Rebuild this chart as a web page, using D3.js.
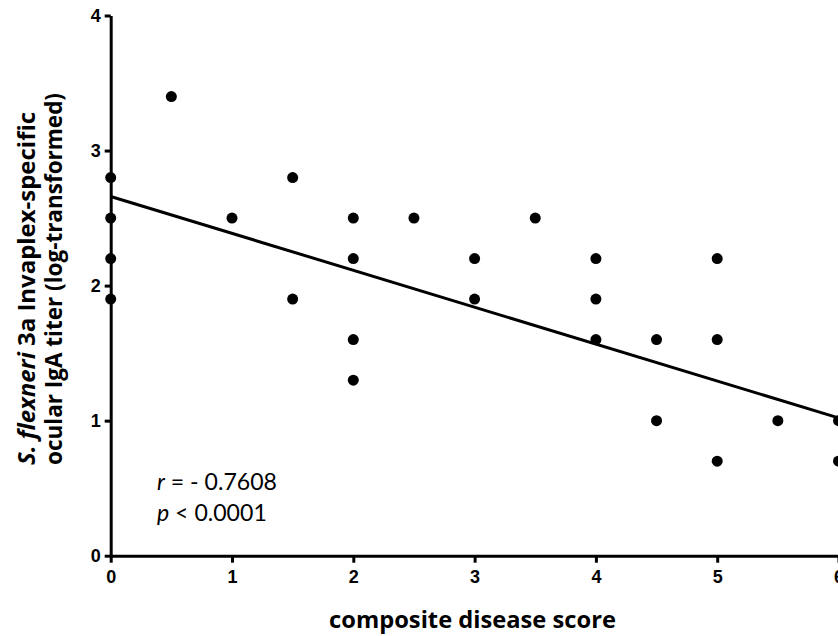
<!DOCTYPE html>
<html>
<head>
<meta charset="utf-8">
<script src="https://cdn.jsdelivr.net/npm/d3@7"></script>
<style>
  html, body { margin: 0; padding: 0; background: #fff; }
  svg { display: block; }
</style>
</head>
<body>
<svg id="chart" width="838" height="636"></svg>
<script>
// Data
const scoreValues = [0, 0, 0, 0, 0.5, 1, 1.5, 1.5, 2, 2, 2, 2, 2.5, 3, 3, 3.5, 4, 4, 4, 4.5, 4.5, 5, 5, 5, 5.5, 6, 6];
const titerValues = [2.8, 2.5, 2.2, 1.9, 3.4, 2.5, 2.8, 1.9, 2.5, 2.2, 1.6, 1.3, 2.5, 2.2, 1.9, 2.5, 2.2, 1.9, 1.6, 1.6, 1.0, 2.2, 1.6, 0.7, 1.0, 1.0, 0.7];
const fitLineX = [0, 6];
const fitLineY = [2.66, 1.02];
const xTicks = [0, 1, 2, 3, 4, 5, 6];
const yTicks = [0, 1, 2, 3, 4];
const statsText = ["r", " = - 0.7608", "p", " < 0.0001"];

const svg = d3.select("#chart");
const x = d3.scaleLinear().domain([0, 6]).range([110.7, 838.5]);
const y = d3.scaleLinear().domain([0, 4]).range([555.7, 15.5]);

const tickFont = "'Liberation Sans', Arial, sans-serif";
const statFont = "Lato, 'Open Sans', sans-serif";
const labelFont = "'Open Sans', Lato, sans-serif";

// fit a text element's font size so that its width matches a target
function fitWidth(sel, base, target) {
  sel.style("font-size", base + "px");
  const w = sel.node().getComputedTextLength();
  sel.style("font-size", (base * target / w).toFixed(2) + "px");
}

// X axis
const xAxis = svg.append("g")
  .attr("transform", `translate(0,${y(0)})`)
  .call(d3.axisBottom(x).tickValues(xTicks).tickFormat(d3.format("d")).tickSize(7).tickSizeOuter(0));
// Y axis
const yAxis = svg.append("g")
  .attr("transform", `translate(${x(0)},0)`)
  .call(d3.axisLeft(y).tickValues(yTicks).tickFormat(d3.format("d")).tickSize(6).tickSizeOuter(0));

[xAxis, yAxis].forEach(g => {
  g.attr("font-size", 18).attr("font-family", tickFont);
  g.select(".domain").attr("stroke", "#000").attr("stroke-width", 3);
  g.selectAll(".tick line").attr("stroke", "#000").attr("stroke-width", 3);
  g.selectAll(".tick text")
    .attr("fill", "#000")
    .style("font-family", tickFont)
    .style("font-weight", "bold")
    .style("font-size", "18px");
});
xAxis.selectAll(".tick text").attr("dy", "0.71em").attr("y", 15);
yAxis.selectAll(".tick text").attr("x", -10);

// Regression line
svg.append("line")
  .attr("x1", x(fitLineX[0])).attr("y1", y(fitLineY[0]))
  .attr("x2", x(fitLineX[1])).attr("y2", y(fitLineY[1]))
  .attr("stroke", "#000").attr("stroke-width", 3);

// Points
svg.append("g").selectAll("circle")
  .data(scoreValues.map((s, i) => [s, titerValues[i]]))
  .join("circle")
  .attr("cx", d => x(d[0]))
  .attr("cy", d => y(d[1]))
  .attr("r", 5.5)
  .attr("fill", "#000");

// Stats annotation
const t1 = svg.append("text").attr("x", 157).attr("y", 490)
  .style("font-family", statFont).attr("fill", "#000");
t1.append("tspan").style("font-style", "italic").text(statsText[0]);
t1.append("tspan").text(statsText[1]);
fitWidth(t1, 22, 120);
const t2 = svg.append("text").attr("x", 157).attr("y", 521)
  .style("font-family", statFont).attr("fill", "#000");
t2.append("tspan").style("font-style", "italic").text(statsText[2]);
t2.append("tspan").text(statsText[3]);
t2.style("font-size", t1.style("font-size"));

// X axis title
const xt = svg.append("text")
  .attr("x", 472.5).attr("y", 628)
  .attr("text-anchor", "middle")
  .style("font-family", labelFont).style("font-weight", "bold")
  .attr("fill", "#000")
  .text("composite disease score");
fitWidth(xt, 22, 287);

// Y axis title, line 1 (glyphs condensed to the reference length)
const yt = svg.append("text")
  .attr("transform", "translate(35,288.5) rotate(-90)")
  .attr("text-anchor", "middle")
  .attr("textLength", 353).attr("lengthAdjust", "spacingAndGlyphs")
  .style("font-family", labelFont).style("font-weight", "bold").style("font-size", "23px")
  .attr("fill", "#000");
yt.append("tspan").style("font-style", "italic").text("S. flexneri");
yt.append("tspan").text(" 3a Invaplex-specific");
// line 2
const yt2 = svg.append("text")
  .attr("transform", "translate(62,279) rotate(-90)")
  .attr("text-anchor", "middle")
  .attr("textLength", 372).attr("lengthAdjust", "spacingAndGlyphs")
  .style("font-family", labelFont).style("font-weight", "bold").style("font-size", "23px")
  .attr("fill", "#000")
  .text("ocular IgA titer (log-transformed)");
</script>
</body>
</html>
